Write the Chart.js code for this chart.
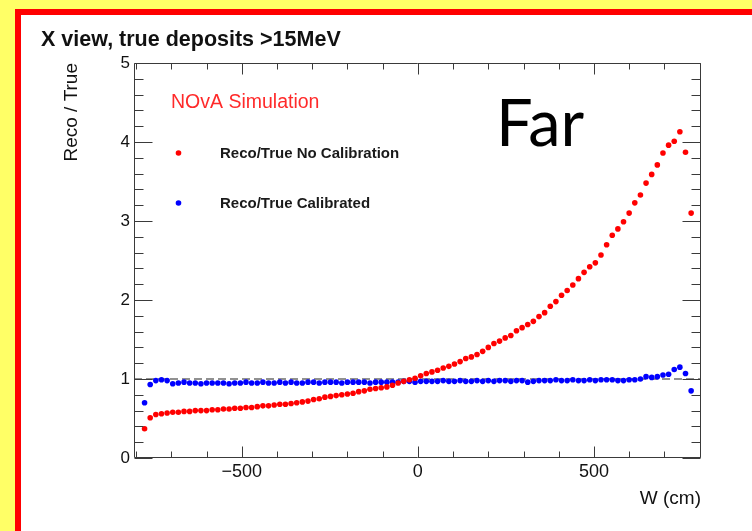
<!DOCTYPE html>
<html>
<head>
<meta charset="utf-8">
<script src="https://cdn.jsdelivr.net/npm/chart.js@4.4.1/dist/chart.umd.min.js"></script>
<style>
  html, body { margin: 0; padding: 0; background: #ffff66; overflow: hidden; }
  canvas { display: block; }
</style>
</head>
<body>
<canvas id="c" width="752" height="531"></canvas>
<script>
// Bin centres along W (cm)
const wBins = [
  -776, -760, -744, -728, -712, -696, -680, -664, -648, -632,
  -616, -600, -584, -568, -552, -536, -520, -504, -488, -472,
  -456, -440, -424, -408, -392, -376, -360, -344, -328, -312,
  -296, -280, -264, -248, -232, -216, -200, -184, -168, -152,
  -136, -120, -104, -88, -72, -56, -40, -24, -8, 8,
  24, 40, 56, 72, 88, 104, 120, 136, 152, 168,
  184, 200, 216, 232, 248, 264, 280, 296, 312, 328,
  344, 360, 376, 392, 408, 424, 440, 456, 472, 488,
  504, 520, 536, 552, 568, 584, 600, 616, 632, 648,
  664, 680, 696, 712, 728, 744, 760, 776
];

// Reco/True without calibration
const recoTrueUncal = [
  0.37, 0.51, 0.55, 0.56, 0.57, 0.58, 0.58, 0.59, 0.59, 0.60,
  0.60, 0.60, 0.61, 0.61, 0.62, 0.62, 0.63, 0.63, 0.64, 0.64,
  0.65, 0.66, 0.66, 0.67, 0.68, 0.68, 0.69, 0.70, 0.71, 0.72,
  0.74, 0.75, 0.77, 0.78, 0.79, 0.80, 0.81, 0.82, 0.84, 0.85,
  0.87, 0.88, 0.89, 0.90, 0.92, 0.95, 0.97, 0.99, 1.01, 1.04,
  1.07, 1.09, 1.11, 1.14, 1.16, 1.19, 1.22, 1.26, 1.28, 1.31,
  1.35, 1.40, 1.45, 1.48, 1.52, 1.55, 1.61, 1.65, 1.69, 1.73,
  1.79, 1.84, 1.92, 1.98, 2.06, 2.12, 2.19, 2.27, 2.35, 2.42,
  2.47, 2.57, 2.70, 2.82, 2.90, 2.99, 3.10, 3.23, 3.33, 3.48,
  3.59, 3.71, 3.86, 3.96, 4.01, 4.13, 3.87, 3.10
];

// Reco/True after calibration
const recoTrueCal = [
  0.70, 0.93, 0.98, 0.99, 0.98, 0.94, 0.95, 0.96, 0.95, 0.95,
  0.94, 0.95, 0.95, 0.95, 0.95, 0.94, 0.95, 0.95, 0.96, 0.95,
  0.95, 0.96, 0.95, 0.95, 0.96, 0.95, 0.96, 0.95, 0.95, 0.96,
  0.96, 0.95, 0.96, 0.96, 0.96, 0.95, 0.96, 0.96, 0.96, 0.96,
  0.95, 0.96, 0.96, 0.96, 0.96, 0.96, 0.97, 0.97, 0.96, 0.97,
  0.97, 0.97, 0.97, 0.98, 0.97, 0.97, 0.98, 0.97, 0.97, 0.98,
  0.97, 0.98, 0.97, 0.98, 0.98, 0.97, 0.98, 0.98, 0.96, 0.97,
  0.98, 0.98, 0.98, 0.99, 0.98, 0.98, 0.99, 0.98, 0.98, 0.99,
  0.98, 0.99, 0.99, 0.99, 0.98, 0.98, 0.99, 0.99, 1.00, 1.03,
  1.02, 1.03, 1.05, 1.06, 1.12, 1.15, 1.07, 0.85
];

// Dashed reference line at Reco/True = 1
const refLineW = [-806, 804];
const refLineVal = [1, 1];

const xRange = [-806, 804];
const yRange = [0, 5];
const xMajorTicks = [-500, 0, 500];
const yMajorTicks = [0, 1, 2, 3, 4, 5];

const seriesLabels = ['Reco/True No Calibration', 'Reco/True Calibrated'];
const plotTitle = 'X view, true deposits >15MeV';
const xTitle = 'W (cm)';
const yTitle = 'Reco / True';
const simLabel = 'NOvA Simulation';
const detLabel = 'Far';

const FONT = "'Liberation Sans', Arial, Helvetica, sans-serif";

// Slide background, red border, ROOT-style frame with inward ticks, legend and labels
const decorPlugin = {
  id: 'decor',
  beforeDraw(chart) {
    const ctx = chart.ctx;
    ctx.save();
    ctx.fillStyle = '#ffff66';
    ctx.fillRect(0, 0, chart.width, chart.height);
    ctx.fillStyle = '#ff0000';
    ctx.fillRect(15, 9, chart.width - 15, chart.height - 9);
    ctx.fillStyle = '#ffffff';
    ctx.fillRect(21, 15, chart.width - 21, chart.height - 15);
    ctx.restore();
  },
  afterDraw(chart) {
    const ctx = chart.ctx;
    const a = chart.chartArea;
    const xs = chart.scales.x, ys = chart.scales.y;
    const L = Math.round(a.left) + 0.5, R = Math.round(a.right) - 0.5;
    const T = Math.round(a.top) + 0.5, B = Math.round(a.bottom) - 0.5;
    ctx.save();
    ctx.strokeStyle = '#3a3a3a';
    ctx.lineWidth = 1;
    ctx.beginPath();
    ctx.rect(L, T, R - L, B - T);
    // x ticks: bottom and top, every 100 cm, major every 500
    for (let v = Math.ceil(xs.min / 100) * 100; v <= xs.max; v += 100) {
      const px = Math.round(xs.getPixelForValue(v)) + 0.5;
      const len = (v % 500 === 0) ? 11 : 6;
      ctx.moveTo(px, B); ctx.lineTo(px, B - len);
      ctx.moveTo(px, T); ctx.lineTo(px, T + len);
    }
    // y ticks: left and right, every 0.2, major every 1
    for (let i = 0; i <= 25; i++) {
      const v = i * 0.2;
      const py = Math.round(ys.getPixelForValue(v)) + 0.5;
      const len = (i % 5 === 0) ? 18 : 9;
      ctx.moveTo(L, py); ctx.lineTo(L + len, py);
      ctx.moveTo(R, py); ctx.lineTo(R - len, py);
    }
    ctx.stroke();

    // plot title
    ctx.fillStyle = '#111';
    ctx.textBaseline = 'alphabetic';
    ctx.textAlign = 'left';
    ctx.font = 'bold 21.5px ' + FONT;
    ctx.fillText(plotTitle, 41, 46);

    // simulation tag
    ctx.fillStyle = '#ff2a2a';
    ctx.font = '19.5px ' + FONT;
    ctx.fillText(simLabel, 171, 108);

    // detector label
    ctx.fillStyle = '#000';
    ctx.font = "65px Lato, 'Open Sans', sans-serif";
    ctx.fillText(detLabel, 496, 146);

    // legend
    const rows = [153, 203];
    chart.data.datasets.forEach((ds, i) => {
      if (i >= seriesLabels.length) return;
      const y = rows[i];
      ctx.fillStyle = ds.pointBackgroundColor;
      ctx.beginPath();
      ctx.arc(178.5, y, ds.pointRadius, 0, Math.PI * 2);
      ctx.fill();
      ctx.fillStyle = '#1a1a1a';
      ctx.font = 'bold 15px ' + FONT;
      ctx.textBaseline = 'middle';
      ctx.fillText(seriesLabels[i], 220, y + 1);
    });
    ctx.restore();
  }
};

const toPoints = (xsArr, ysArr) => xsArr.map((x, i) => ({ x, y: ysArr[i] }));

new Chart(document.getElementById('c'), {
  type: 'scatter',
  data: {
    datasets: [
      {
        label: seriesLabels[0],
        data: toPoints(wBins, recoTrueUncal),
        pointRadius: 2.8,
        pointBackgroundColor: '#ff0000',
        pointBorderWidth: 0,
        borderColor: '#ff0000',
        order: 1
      },
      {
        label: seriesLabels[1],
        data: toPoints(wBins, recoTrueCal),
        pointRadius: 2.8,
        pointBackgroundColor: '#0000ff',
        pointBorderWidth: 0,
        borderColor: '#0000ff',
        order: 1
      },
      {
        label: 'ref',
        type: 'line',
        data: toPoints(refLineW, refLineVal),
        borderColor: '#6e6e6e',
        borderWidth: 1.3,
        borderDash: [8, 4],
        pointRadius: 0,
        fill: false,
        order: 5
      }
    ]
  },
  options: {
    responsive: false,
    devicePixelRatio: 1,
    animation: false,
    layout: { padding: { left: 0, right: 51, top: 63, bottom: 0 } },
    plugins: {
      legend: { display: false },
      tooltip: { enabled: false },
      title: { display: false }
    },
    scales: {
      x: {
        type: 'linear',
        min: xRange[0],
        max: xRange[1],
        afterBuildTicks: s => { s.ticks = xMajorTicks.map(v => ({ value: v })); },
        afterFit: s => { s.height = 73; },
        grid: { display: false, drawTicks: false, drawOnChartArea: false },
        border: { display: false },
        ticks: {
          color: '#111',
          font: { family: FONT, size: 18 },
          padding: 3,
          maxRotation: 0,
          autoSkip: false,
          callback: v => (v < 0 ? '\u2212' + Math.abs(v) : String(v))
        },
        title: {
          display: true,
          text: xTitle,
          align: 'end',
          color: '#111',
          font: { family: FONT, size: 19 },
          padding: { top: 0, bottom: 21 }
        }
      },
      y: {
        type: 'linear',
        min: yRange[0],
        max: yRange[1],
        afterBuildTicks: s => { s.ticks = yMajorTicks.map(v => ({ value: v })); },
        afterFit: s => { s.width = 134; },
        grid: { display: false, drawTicks: false, drawOnChartArea: false },
        border: { display: false },
        ticks: {
          color: '#111',
          font: { family: FONT, size: 17 },
          padding: 4
        },
        title: {
          display: true,
          text: yTitle,
          align: 'end',
          color: '#111',
          font: { family: FONT, size: 19 },
          padding: { top: 60, bottom: 0 }
        }
      }
    }
  },
  plugins: [decorPlugin]
});
</script>
</body>
</html>
